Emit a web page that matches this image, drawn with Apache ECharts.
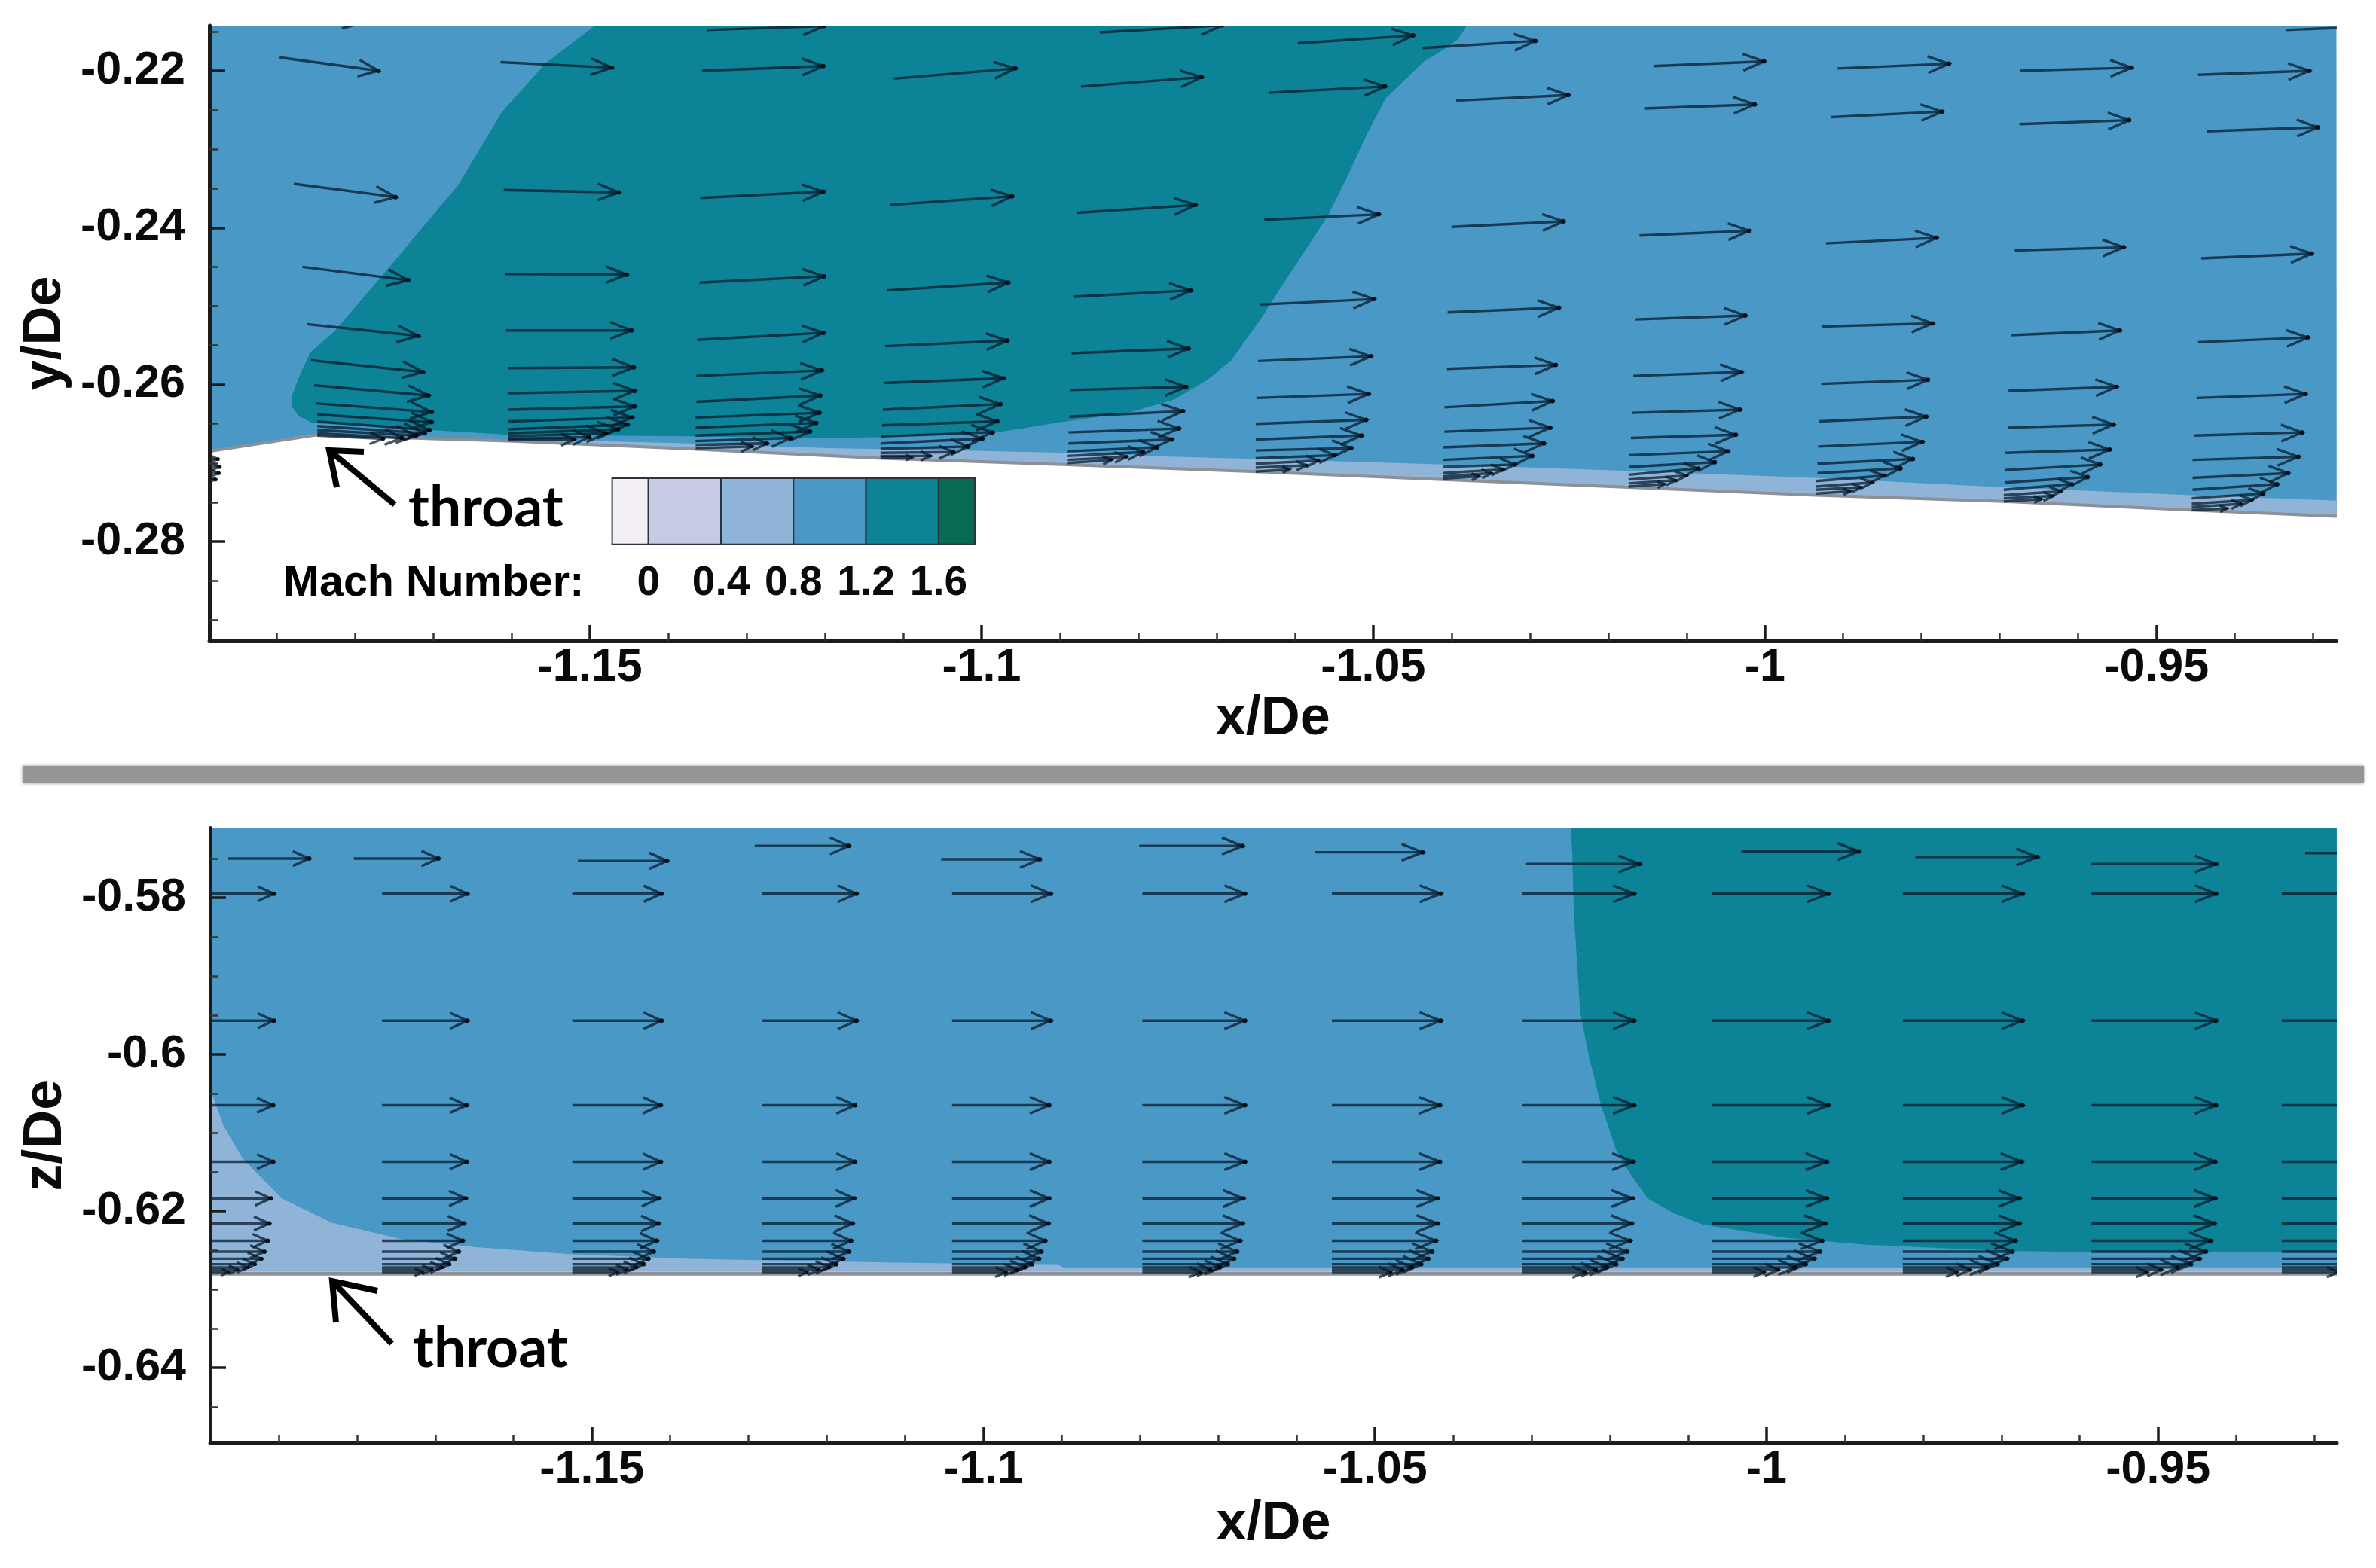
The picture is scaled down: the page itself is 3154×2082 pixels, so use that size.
<!DOCTYPE html>
<html><head><meta charset="utf-8">
<style>html,body{margin:0;padding:0;background:#fff}#c{width:3154px;height:2082px}#c canvas{filter:blur(0.7px)}</style>
<script src="https://cdn.jsdelivr.net/npm/echarts@6/dist/echarts.min.js"></script>
</head><body><div id="c"></div>
<script>
// ---------- Axis ranges and ticks ----------
const xMajor = [-1.15, -1.1, -1.05, -1, -0.95];
const xMinor = [-1.19,-1.18,-1.17,-1.16,-1.14,-1.13,-1.12,-1.11,-1.09,-1.08,-1.07,-1.06,-1.04,-1.03,-1.02,-1.01,-0.99,-0.98,-0.97,-0.96,-0.94,-0.93];
const yMajor = [-0.22, -0.24, -0.26, -0.28];
const yMinor = [-0.215,-0.225,-0.23,-0.235,-0.245,-0.25,-0.255,-0.265,-0.27,-0.275,-0.285,-0.29];
const zMajor = [-0.58, -0.6, -0.62, -0.64];
const zMinor = [-0.575,-0.585,-0.59,-0.595,-0.605,-0.61,-0.615,-0.625,-0.63,-0.635,-0.645];
const machLevels = [-0.2, 0, 0.4, 0.8, 1.2, 1.6, 1.8];
const machTicks = [0, 0.4, 0.8, 1.2, 1.6];
const machColors = ['#f4eef6', '#c4cbe3', '#8fb4d7', '#4a98c5', '#0d8397', '#066b50'];

// ---------- Top panel: wall and Mach regions (x/De, y/De) ----------
const topWall = [[-1.1986,-0.2685],[-1.1848,-0.2664],[-1.1701,-0.2669],[-1.1603,-0.2672],[-1.1372,-0.2682],[-1.1127,-0.2694],[-1.0897,-0.2702],[-1.0649,-0.2711],[-1.0411,-0.2721],[-1.0174,-0.2731],[-0.9935,-0.2741],[-0.9695,-0.2749],[-0.9456,-0.2760],[-0.9270,-0.2768]];
const topSupersonic = [[-1.1493,-0.2142],[-1.1556,-0.2190],[-1.1612,-0.2252],[-1.1667,-0.2344],[-1.1759,-0.2454],[-1.1826,-0.2532],[-1.1857,-0.2559],[-1.1869,-0.2585],[-1.1880,-0.2613],[-1.1881,-0.2627],[-1.1872,-0.2640],[-1.1854,-0.2649],[-1.1704,-0.2658],[-1.1602,-0.2664],[-1.1372,-0.2666],[-1.1195,-0.2668],[-1.1129,-0.2667],[-1.1030,-0.2663],[-1.0974,-0.2660],[-1.0892,-0.2647],[-1.0809,-0.2635],[-1.0754,-0.2619],[-1.0710,-0.2593],[-1.0681,-0.2569],[-1.0644,-0.2517],[-1.0619,-0.2478],[-1.0558,-0.2385],[-1.0533,-0.2335],[-1.0508,-0.2281],[-1.0484,-0.2235],[-1.0435,-0.2188],[-1.0410,-0.2173],[-1.0392,-0.2160],[-1.0380,-0.2142]];
const topSubsonicEdge = [[-1.1603,-0.2672],[-1.1495,-0.2672],[-1.1372,-0.2675],[-1.1195,-0.2681],[-1.1030,-0.2684],[-1.0892,-0.2687],[-1.0754,-0.2692],[-1.0643,-0.2695],[-1.0533,-0.2698],[-1.0411,-0.2702],[-1.0174,-0.2710],[-0.9935,-0.2719],[-0.9693,-0.2731],[-0.9455,-0.2741],[-0.9270,-0.2748]];

// ---------- Top panel velocity vectors: [tail x, tail y, head x, head y] ----------
const topS0 = [[-1.2061,-0.2692,-1.1975,-0.2695],[-1.2061,-0.2702,-1.1973,-0.2705],[-1.2061,-0.2710,-1.1974,-0.2713],[-1.2061,-0.2718,-1.1978,-0.2721]];
const topS1 = [[-1.1916,-0.2121,-1.1790,-0.2139],[-1.1896,-0.2183,-1.1770,-0.2200],[-1.1878,-0.2344,-1.1748,-0.2361],[-1.1867,-0.2450,-1.1732,-0.2467],[-1.1861,-0.2523,-1.1719,-0.2538],[-1.1856,-0.2569,-1.1713,-0.2584],[-1.1852,-0.2601,-1.1706,-0.2614],[-1.1850,-0.2624,-1.1702,-0.2635],[-1.1848,-0.2638,-1.1702,-0.2648],[-1.1848,-0.2647,-1.1705,-0.2658],[-1.1848,-0.2653,-1.1711,-0.2662],[-1.1848,-0.2658,-1.1722,-0.2665],[-1.1848,-0.2662,-1.1740,-0.2668],[-1.1848,-0.2665,-1.1764,-0.2669]];
const topS2 = [[-1.1614,-0.2189,-1.1472,-0.2196],[-1.1610,-0.2352,-1.1463,-0.2355],[-1.1608,-0.2459,-1.1453,-0.2460],[-1.1607,-0.2531,-1.1447,-0.2531],[-1.1605,-0.2579,-1.1444,-0.2578],[-1.1604,-0.2611,-1.1443,-0.2608],[-1.1604,-0.2632,-1.1443,-0.2628],[-1.1604,-0.2647,-1.1446,-0.2642],[-1.1604,-0.2657,-1.1452,-0.2651],[-1.1604,-0.2662,-1.1464,-0.2657],[-1.1604,-0.2666,-1.1480,-0.2662],[-1.1604,-0.2669,-1.1501,-0.2667],[-1.1604,-0.2671,-1.1520,-0.2670]];
const topS3 = [[-1.1351,-0.2148,-1.1201,-0.2143],[-1.1357,-0.2200,-1.1202,-0.2194],[-1.1359,-0.2362,-1.1202,-0.2354],[-1.1360,-0.2470,-1.1201,-0.2462],[-1.1363,-0.2543,-1.1202,-0.2534],[-1.1364,-0.2589,-1.1204,-0.2582],[-1.1364,-0.2622,-1.1206,-0.2614],[-1.1365,-0.2642,-1.1207,-0.2636],[-1.1365,-0.2655,-1.1211,-0.2649],[-1.1365,-0.2665,-1.1219,-0.2660],[-1.1365,-0.2672,-1.1244,-0.2668],[-1.1365,-0.2677,-1.1274,-0.2675],[-1.1365,-0.2681,-1.1293,-0.2679]];
const topS4 = [[-1.1112,-0.2210,-1.0957,-0.2197],[-1.1117,-0.2371,-1.0961,-0.2360],[-1.1121,-0.2480,-1.0966,-0.2470],[-1.1123,-0.2551,-1.0967,-0.2544],[-1.1125,-0.2598,-1.0972,-0.2592],[-1.1126,-0.2632,-1.0976,-0.2625],[-1.1127,-0.2652,-1.0980,-0.2647],[-1.1128,-0.2666,-1.0986,-0.2661],[-1.1129,-0.2675,-1.0999,-0.2669],[-1.1129,-0.2682,-1.1017,-0.2679],[-1.1129,-0.2687,-1.1036,-0.2686],[-1.1129,-0.2691,-1.1065,-0.2691],[-1.1129,-0.2693,-1.1089,-0.2693]];
const topS5 = [[-1.0849,-0.2151,-1.0693,-0.2142],[-1.0873,-0.2220,-1.0719,-0.2208],[-1.0878,-0.2381,-1.0727,-0.2371],[-1.0882,-0.2488,-1.0733,-0.2480],[-1.0885,-0.2560,-1.0736,-0.2554],[-1.0887,-0.2607,-1.0739,-0.2603],[-1.0888,-0.2641,-1.0743,-0.2634],[-1.0889,-0.2661,-1.0748,-0.2656],[-1.0889,-0.2675,-1.0757,-0.2670],[-1.0890,-0.2685,-1.0776,-0.2680],[-1.0890,-0.2691,-1.0794,-0.2686],[-1.0890,-0.2696,-1.0815,-0.2692],[-1.0890,-0.2700,-1.0834,-0.2696]];
const topS6 = [[-1.0596,-0.2165,-1.0449,-0.2155],[-1.0633,-0.2228,-1.0485,-0.2220],[-1.0639,-0.2390,-1.0493,-0.2383],[-1.0644,-0.2498,-1.0499,-0.2491],[-1.0647,-0.2570,-1.0503,-0.2564],[-1.0649,-0.2617,-1.0506,-0.2612],[-1.0650,-0.2650,-1.0509,-0.2645],[-1.0650,-0.2670,-1.0515,-0.2665],[-1.0650,-0.2684,-1.0528,-0.2681],[-1.0650,-0.2694,-1.0549,-0.2690],[-1.0650,-0.2701,-1.0570,-0.2697],[-1.0650,-0.2706,-1.0585,-0.2703],[-1.0650,-0.2711,-1.0607,-0.2708]];
const topS7 = [[-1.0437,-0.2171,-1.0293,-0.2162],[-1.0394,-0.2238,-1.0251,-0.2231],[-1.0400,-0.2399,-1.0257,-0.2392],[-1.0405,-0.2508,-1.0263,-0.2502],[-1.0406,-0.2580,-1.0267,-0.2575],[-1.0409,-0.2629,-1.0271,-0.2621],[-1.0409,-0.2660,-1.0274,-0.2655],[-1.0411,-0.2680,-1.0282,-0.2675],[-1.0411,-0.2696,-1.0297,-0.2691],[-1.0411,-0.2705,-1.0319,-0.2702],[-1.0411,-0.2713,-1.0334,-0.2708],[-1.0411,-0.2717,-1.0349,-0.2713],[-1.0411,-0.2720,-1.0365,-0.2717]];
const topS8 = [[-1.0142,-0.2194,-1.0001,-0.2188],[-1.0154,-0.2248,-1.0013,-0.2243],[-1.0160,-0.2410,-1.0020,-0.2404],[-1.0165,-0.2517,-1.0025,-0.2512],[-1.0168,-0.2589,-1.0030,-0.2584],[-1.0169,-0.2636,-1.0032,-0.2632],[-1.0171,-0.2668,-1.0037,-0.2664],[-1.0173,-0.2690,-1.0047,-0.2685],[-1.0173,-0.2705,-1.0064,-0.2699],[-1.0174,-0.2715,-1.0085,-0.2707],[-1.0174,-0.2721,-1.0100,-0.2716],[-1.0174,-0.2726,-1.0114,-0.2722],[-1.0174,-0.2730,-1.0128,-0.2727]];
const topS9 = [[-0.9907,-0.2197,-0.9765,-0.2191],[-0.9915,-0.2259,-0.9774,-0.2252],[-0.9922,-0.2420,-0.9781,-0.2413],[-0.9927,-0.2526,-0.9786,-0.2522],[-0.9928,-0.2599,-0.9792,-0.2594],[-0.9931,-0.2647,-0.9794,-0.2641],[-0.9932,-0.2679,-0.9799,-0.2673],[-0.9933,-0.2701,-0.9811,-0.2695],[-0.9933,-0.2713,-0.9827,-0.2707],[-0.9935,-0.2723,-0.9848,-0.2716],[-0.9935,-0.2730,-0.9863,-0.2725],[-0.9935,-0.2734,-0.9877,-0.2731],[-0.9935,-0.2739,-0.9891,-0.2736]];
const topS10 = [[-0.9674,-0.2200,-0.9532,-0.2196],[-0.9675,-0.2268,-0.9535,-0.2263],[-0.9681,-0.2429,-0.9542,-0.2425],[-0.9686,-0.2537,-0.9547,-0.2531],[-0.9689,-0.2608,-0.9551,-0.2603],[-0.9690,-0.2655,-0.9555,-0.2651],[-0.9693,-0.2687,-0.9560,-0.2683],[-0.9693,-0.2709,-0.9572,-0.2702],[-0.9694,-0.2725,-0.9588,-0.2718],[-0.9695,-0.2734,-0.9608,-0.2727],[-0.9695,-0.2741,-0.9622,-0.2736],[-0.9695,-0.2745,-0.9632,-0.2742],[-0.9695,-0.2749,-0.9647,-0.2746]];
const topS11 = [[-0.9335,-0.2148,-0.9194,-0.2142],[-0.9447,-0.2205,-0.9305,-0.2200],[-0.9436,-0.2277,-0.9294,-0.2272],[-0.9443,-0.2439,-0.9302,-0.2433],[-0.9447,-0.2546,-0.9307,-0.2540],[-0.9449,-0.2617,-0.9310,-0.2612],[-0.9452,-0.2665,-0.9314,-0.2661],[-0.9454,-0.2696,-0.9319,-0.2692],[-0.9454,-0.2719,-0.9332,-0.2713],[-0.9454,-0.2734,-0.9346,-0.2727],[-0.9455,-0.2745,-0.9364,-0.2739],[-0.9455,-0.2752,-0.9378,-0.2747],[-0.9455,-0.2756,-0.9392,-0.2752],[-0.9455,-0.2760,-0.9410,-0.2758]];

// ---------- Bottom panel: wall and Mach regions (x/De, z/De) ----------
const botWallZ = -0.6280;
const botSupersonic = [[-1.0250,-0.5711],[-1.0248,-0.5744],[-1.0246,-0.5819],[-1.0238,-0.5946],[-1.0226,-0.6006],[-1.0211,-0.6066],[-1.0192,-0.6122],[-1.0177,-0.6148],[-1.0152,-0.6184],[-1.0118,-0.6203],[-1.0082,-0.6217],[-0.9978,-0.6234],[-0.9872,-0.6243],[-0.9695,-0.6251],[-0.9553,-0.6253],[-0.9272,-0.6253],[-0.9272,-0.5711]];
const botSubsonicEdge = [[-1.1987,-0.6048],[-1.1984,-0.6053],[-1.1970,-0.6092],[-1.1946,-0.6133],[-1.1896,-0.6184],[-1.1832,-0.6215],[-1.1743,-0.6236],[-1.1651,-0.6246],[-1.1529,-0.6255],[-1.1375,-0.6261],[-1.1222,-0.6264],[-1.1111,-0.6266],[-1.1026,-0.6267],[-1.0904,-0.6269],[-1.0898,-0.6272],[-0.9272,-0.6272],[-0.9272,-0.6280],[-1.1987,-0.6280]];
const botLowStrip = [[-1.1987,-0.6276],[-0.9272,-0.6276],[-0.9272,-0.6280],[-1.1987,-0.6280]];

// ---------- Bottom panel velocity vectors ----------
const botTailX = [-1.2010,-1.1768,-1.1525,-1.1283,-1.1040,-1.0797,-1.0555,-1.0312,-1.0070,-0.9826,-0.9585,-0.9342];
const botRowZ = [-0.5795,-0.5957,-0.6065,-0.6137,-0.6184,-0.6216,-0.6238,-0.6252,-0.6261,-0.6268,-0.6272,-0.6275,-0.6278];
const botLen0 = [0.0104,0.0104,0.0103,0.0103,0.0100,0.0098,0.0096,0.0092,0.0088,0.0080,0.0071,0.0058,0.0046];
const botLen1 = [0.0109,0.0109,0.0108,0.0108,0.0107,0.0105,0.0103,0.0098,0.0093,0.0086,0.0077,0.0064,0.0052];
const botLen2 = [0.0114,0.0114,0.0113,0.0113,0.0111,0.0110,0.0108,0.0104,0.0097,0.0091,0.0082,0.0070,0.0058];
const botLen3 = [0.0121,0.0121,0.0119,0.0119,0.0118,0.0116,0.0114,0.0111,0.0104,0.0095,0.0086,0.0073,0.0058];
const botLen4 = [0.0126,0.0126,0.0124,0.0124,0.0124,0.0123,0.0119,0.0114,0.0111,0.0102,0.0093,0.0083,0.0069];
const botLen5 = [0.0131,0.0131,0.0131,0.0131,0.0129,0.0128,0.0125,0.0121,0.0117,0.0109,0.0099,0.0087,0.0074];
const botLen6 = [0.0139,0.0139,0.0138,0.0138,0.0135,0.0135,0.0133,0.0128,0.0123,0.0114,0.0102,0.0090,0.0075];
const botLen7 = [0.0143,0.0143,0.0143,0.0142,0.0141,0.0140,0.0138,0.0134,0.0128,0.0120,0.0108,0.0094,0.0080];
const botLen8 = [0.0149,0.0149,0.0149,0.0147,0.0147,0.0145,0.0141,0.0138,0.0131,0.0120,0.0106,0.0085,0.0067];
const botLen9 = [0.0153,0.0153,0.0153,0.0152,0.0149,0.0149,0.0144,0.0140,0.0133,0.0121,0.0107,0.0086,0.0069];
const botLen10 = [0.0159,0.0159,0.0159,0.0158,0.0158,0.0157,0.0152,0.0146,0.0138,0.0127,0.0110,0.0089,0.0071];
const botLen11 = [0.0164,0.0164,0.0164,0.0162,0.0161,0.0160,0.0156,0.0150,0.0141,0.0130,0.0113,0.0090,0.0072];
const botTopRow = [[-1.1965,-0.5750,-1.1861,-0.5750],[-1.1804,-0.5750,-1.1696,-0.5750],[-1.1518,-0.5753,-1.1404,-0.5753],[-1.1292,-0.5734,-1.1172,-0.5734],[-1.1054,-0.5751,-1.0928,-0.5751],[-1.0801,-0.5734,-1.0669,-0.5734],[-1.0577,-0.5742,-1.0439,-0.5742],[-1.0307,-0.5757,-1.0162,-0.5757],[-1.0032,-0.5741,-0.9882,-0.5741],[-0.9810,-0.5748,-0.9654,-0.5748],[-0.9585,-0.5757,-0.9426,-0.5757],[-0.9312,-0.5743,-0.9149,-0.5743]];

// ---------- Text ----------
const axisTitles = {x: 'x/De', y: 'y/De', z: 'z/De'};
const legendTitle = 'Mach Number:';
const annotation = 'throat';

// ---------- Build the option ----------
const TXT = '"Liberation Sans", Arial, sans-serif';
const AXIS = '#1c1c1c';
const topVectors = [].concat(topS0,topS1,topS2,topS3,topS4,topS5,topS6,topS7,topS8,topS9,topS10,topS11);
const botLens = [botLen0,botLen1,botLen2,botLen3,botLen4,botLen5,botLen6,botLen7,botLen8,botLen9,botLen10,botLen11];
const botVectors = botTopRow.slice();
botTailX.forEach((tx, s) => botRowZ.forEach((z, r) => botVectors.push([tx, z, tx + botLens[s][r], z])));

function arrow(params, api) {
  const a = api.coord([api.value(0), api.value(1)]);
  const b = api.coord([api.value(2), api.value(3)]);
  const dx = b[0] - a[0], dy = b[1] - a[1], L = Math.hypot(dx, dy) || 1;
  const ux = dx / L, uy = dy / L, back = Math.min(28, 0.2 * L), lat = Math.min(11, 0.09 * L);
  const st = {stroke: 'rgba(4,24,40,0.72)', fill: 'none', lineWidth: 3.4};
  return {type: 'group', children: [
    {type: 'line', shape: {x1: a[0], y1: a[1], x2: b[0], y2: b[1]}, style: st},
    {type: 'polyline', shape: {points: [
      [b[0] - ux * back - uy * lat, b[1] - uy * back + ux * lat], b,
      [b[0] - ux * back + uy * lat, b[1] - uy * back - ux * lat]]}, style: st},
    {type: 'circle', shape: {cx: b[0], cy: b[1], r: Math.min(3, 0.03 * L)}, style: {fill: 'rgba(0,8,14,0.9)'}}
  ]};
}
function vectorSeries(data, ax) {
  return {type: 'custom', xAxisIndex: ax[0], yAxisIndex: ax[1], clip: true, silent: true, animation: false, z: 4,
    data, encode: {x: [0, 2], y: [1, 3]}, renderItem: arrow};
}
function region(points, color, ax, z) {
  return {type: 'custom', xAxisIndex: ax[0], yAxisIndex: ax[1], clip: true, silent: true, animation: false, z: z || 2,
    data: points, encode: {x: 0, y: 1},
    renderItem(params, api) {
      if (params.dataIndex !== 0) return null;
      return {type: 'polygon', shape: {points: points.map(p => api.coord(p))}, style: {fill: color}};
    }};
}
function wall(points, ax, width) {
  return {type: 'line', xAxisIndex: ax[0], yAxisIndex: ax[1], data: points, showSymbol: false, silent: true, animation: false, z: 3,
    lineStyle: {color: '#8f8f96', width}};
}
function axisPair(kind, grid, min, max, major, minor, name, gap) {
  const isX = kind === 'x';
  const main = {type: 'value', gridIndex: grid, min, max, position: isX ? 'bottom' : 'left', z: 6, splitLine: {show: false},
    axisLine: {show: true, onZero: false, lineStyle: {color: AXIS, width: 5}},
    axisTick: {show: true, inside: true, length: 21, lineStyle: {color: AXIS, width: 3.5}, customValues: major},
    axisLabel: {show: true, customValues: major, color: '#0a0a0a', fontFamily: TXT, fontWeight: 'bold', fontSize: 61, margin: isX ? 6 : 32, padding: isX ? 0 : [10, 0, 0, 0], hideOverlap: false},
    name, nameLocation: 'middle', nameGap: gap, nameTextStyle: {color: '#0a0a0a', fontFamily: TXT, fontWeight: 'bold', fontSize: 72}};
  const sub = {type: 'value', gridIndex: grid, min, max, position: isX ? 'bottom' : 'left', z: 6, splitLine: {show: false},
    axisLine: {show: false, onZero: false}, axisLabel: {show: false},
    axisTick: {show: true, inside: true, length: 11, lineStyle: {color: '#333', width: 2.5}, customValues: minor}};
  return [main, sub];
}
const machBands = machColors.map((c, i) => [machLevels[i], machLevels[i + 1], c]);

const TOP = [0, 0], BOT = [2, 2];
const option = {
  backgroundColor: '#fff', animation: false,
  grid: [
    {left: 278, top: 34, width: 2823.5, height: 817},
    {left: 279, top: 1099.5, width: 2823, height: 816.5},
    {left: 812.6, top: 635, width: 481.4, height: 87.7}
  ],
  xAxis: [
    ...axisPair('x', 0, -1.19857, -0.92703, xMajor, xMinor, axisTitles.x, 66),
    ...axisPair('x', 1, -1.19874, -0.92717, xMajor, xMinor, axisTitles.x, 72),
    {type: 'value', gridIndex: 2, min: machLevels[0], max: machLevels[6], z: 6, splitLine: {show: false},
      axisLine: {show: false, onZero: false}, axisTick: {show: false},
      axisLabel: {customValues: machTicks, color: '#0a0a0a', fontFamily: TXT, fontWeight: 'bold', fontSize: 55, margin: 25}}
  ],
  yAxis: [
    ...axisPair('y', 0, -0.29268, -0.21424, yMajor, yMinor, axisTitles.y, 165),
    ...axisPair('y', 1, -0.64962, -0.57111, zMajor, zMinor, axisTitles.z, 165),
    {type: 'value', gridIndex: 2, min: 0, max: 1, show: false}
  ],
  series: [
    region([[-1.19857,-0.21424],[-0.92703,-0.21424]].concat(topWall.slice().reverse()), machColors[3], TOP),
    region(topSupersonic, machColors[4], TOP),
    region(topSubsonicEdge.concat(topWall.filter(p => p[0] >= -1.16).reverse()), machColors[2], TOP),
    wall(topWall, TOP, 4),
    vectorSeries(topVectors, TOP),
    region([[-1.19874,-0.57111],[-0.92717,-0.57111],[-0.92717,botWallZ],[-1.19874,botWallZ]], machColors[3], BOT),
    region(botSupersonic, machColors[4], BOT),
    region(botSubsonicEdge, machColors[2], BOT),
    region(botLowStrip, machColors[1], BOT),
    wall([[-1.19874,botWallZ],[-0.92717,botWallZ]], BOT, 5),
    vectorSeries(botVectors, BOT),
    {type: 'custom', xAxisIndex: 4, yAxisIndex: 4, silent: true, animation: false, z: 4, data: machBands,
      encode: {x: [0, 1]},
      renderItem(params, api) {
        const a = api.coord([api.value(0), 1]), b = api.coord([api.value(1), 0]);
        return {type: 'rect', shape: {x: a[0], y: a[1], width: b[0] - a[0], height: b[1] - a[1]},
          style: {fill: machColors[params.dataIndex], stroke: '#2a3340', lineWidth: 2}};
      }}
  ],
  graphic: [
    {type: 'rect', silent: true, shape: {x: 30, y: 1017, width: 3108, height: 23}, style: {fill: '#959595', shadowBlur: 4, shadowColor: '#959595'}},
    {type: 'polyline', silent: true, z: 20, shape: {points: [[483,600],[437,598],[447,647]]}, style: {stroke: '#000', fill: 'none', lineWidth: 8}},
    {type: 'line', silent: true, z: 20, shape: {x1: 437, y1: 598, x2: 524, y2: 670}, style: {stroke: '#000', lineWidth: 8}},
    {type: 'polyline', silent: true, z: 20, shape: {points: [[501,1714],[441,1701],[446,1756]]}, style: {stroke: '#000', fill: 'none', lineWidth: 8}},
    {type: 'line', silent: true, z: 20, shape: {x1: 441, y1: 1701, x2: 520, y2: 1784}, style: {stroke: '#000', lineWidth: 8}},
    {type: 'text', silent: true, z: 20, style: {x: 542, y: 675, text: annotation, fill: '#000', font: 'bold 75px Lato, sans-serif', verticalAlign: 'middle'}},
    {type: 'text', silent: true, z: 20, style: {x: 548, y: 1791, text: annotation, fill: '#000', font: 'bold 75px Lato, sans-serif', verticalAlign: 'middle'}},
    {type: 'text', silent: true, z: 20, style: {x: 376, y: 775, text: legendTitle, fill: '#000', font: 'bold 57.5px "Liberation Sans", sans-serif', verticalAlign: 'middle'}}
  ]
};
const chart = echarts.init(document.getElementById('c'), null, {renderer: 'canvas', width: 3154, height: 2082});
chart.setOption(option);
</script></body></html>
